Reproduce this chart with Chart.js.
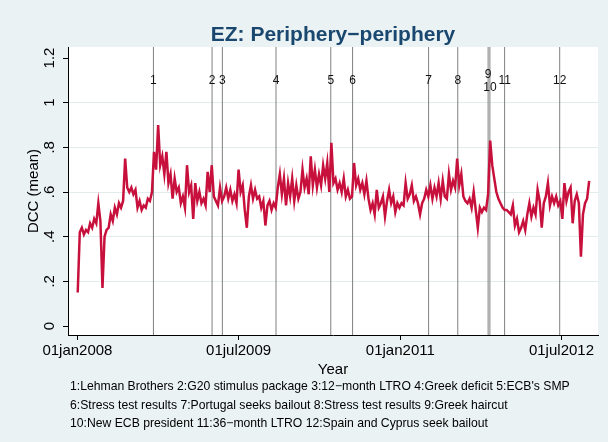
<!DOCTYPE html>
<html>
<head>
<meta charset="utf-8">
<script src="https://cdn.jsdelivr.net/npm/chart.js@4.4.1/dist/chart.umd.min.js"></script>
<style>
  html, body { margin: 0; padding: 0; background: #eaf2f3; }
  canvas { display: block; }
</style>
</head>
<body>
<canvas id="grafico" width="608" height="442"></canvas>
<script>
// Valores semanais do DCC (média), um array por ano
const inicioSerie = '2008-01-02';
const dcc2008 = [0.15, 0.42, 0.44, 0.41, 0.43, 0.42, 0.46, 0.44, 0.48, 0.46, 0.55, 0.47, 0.17, 0.40, 0.43, 0.44,
  0.50, 0.47, 0.53, 0.50, 0.55, 0.53, 0.56, 0.75, 0.62, 0.60, 0.62, 0.59, 0.61, 0.53, 0.56, 0.52, 0.54, 0.53,
  0.57, 0.56, 0.60, 0.78, 0.70, 0.90, 0.72, 0.76, 0.68, 0.78, 0.64, 0.68, 0.57, 0.66, 0.60, 0.62, 0.55, 0.58, 0.53];
const dcc2009 = [0.72, 0.60, 0.63, 0.48, 0.64, 0.56, 0.60, 0.55, 0.57, 0.54, 0.69, 0.60, 0.72, 0.58, 0.56, 0.54,
  0.62, 0.56, 0.58, 0.62, 0.57, 0.61, 0.56, 0.59, 0.55, 0.70, 0.60, 0.63, 0.52, 0.44, 0.58, 0.63, 0.57, 0.61,
  0.57, 0.58, 0.53, 0.56, 0.45, 0.54, 0.56, 0.52, 0.55, 0.53, 0.62, 0.68, 0.59, 0.66, 0.54, 0.64, 0.58, 0.66];
const dcc2010 = [0.56, 0.63, 0.57, 0.60, 0.70, 0.62, 0.66, 0.59, 0.76, 0.63, 0.70, 0.62, 0.68, 0.63, 0.72, 0.66,
  0.73, 0.60, 0.82, 0.64, 0.66, 0.61, 0.64, 0.60, 0.66, 0.58, 0.61, 0.57, 0.58, 0.73, 0.63, 0.66, 0.61, 0.64,
  0.59, 0.65, 0.57, 0.52, 0.55, 0.50, 0.61, 0.53, 0.55, 0.58, 0.49, 0.56, 0.61, 0.55, 0.58, 0.51, 0.55, 0.53];
const dcc2011 = [0.55, 0.54, 0.64, 0.57, 0.59, 0.63, 0.56, 0.58, 0.55, 0.50, 0.55, 0.57, 0.61, 0.58, 0.63, 0.57,
  0.62, 0.58, 0.64, 0.57, 0.65, 0.58, 0.57, 0.68, 0.61, 0.65, 0.62, 0.75, 0.63, 0.68, 0.58, 0.56, 0.55, 0.57,
  0.53, 0.60, 0.52, 0.44, 0.53, 0.51, 0.53, 0.52, 0.59, 0.83, 0.72, 0.66, 0.60, 0.57, 0.55, 0.53, 0.52, 0.52];
const dcc2012 = [0.51, 0.50, 0.54, 0.45, 0.48, 0.42, 0.44, 0.47, 0.43, 0.50, 0.55, 0.49, 0.53, 0.50, 0.61, 0.56,
  0.44, 0.55, 0.58, 0.64, 0.54, 0.58, 0.55, 0.58, 0.54, 0.56, 0.48, 0.64, 0.56, 0.60, 0.62, 0.46, 0.56, 0.59,
  0.55, 0.31, 0.50, 0.55, 0.57, 0.65];

// Eventos marcados com linhas verticais
const datasEventos = ['2008-09-15', '2009-04-02', '2009-05-07', '2009-11-05', '2010-05-10', '2010-07-23',
  '2011-04-07', '2011-07-15', '2011-10-26', '2011-11-01', '2011-12-21', '2012-06-25'];
const numerosEventos = ['1', '2', '3', '4', '5', '6', '7', '8', '9', '10', '11', '12'];
const legendaEventos = [
  '1:Lehman Brothers 2:G20 stimulus package 3:12\u2212month LTRO 4:Greek deficit 5:ECB\'s SMP',
  '6:Stress test results 7:Portugal seeks bailout 8:Stress test results 9:Greek haircut',
  '10:New ECB president 11:36\u2212month LTRO 12:Spain and Cyprus seek bailout'
];

// Marcas dos eixos
const ticksY = [0, 0.2, 0.4, 0.6, 0.8, 1, 1.2];
const rotulosY = ['0', '.2', '.4', '.6', '.8', '1', '1.2'];
const datasTicksX = ['2008-01-01', '2009-07-01', '2011-01-01', '2012-07-01'];
const rotulosX = ['01jan2008', '01jul2009', '01jan2011', '01jul2012'];

const titulo = 'EZ: Periphery\u2212periphery';
const fonte = '"Liberation Sans", Arial, Helvetica, sans-serif';

// Converte uma data em dias desde 01jan2008
function dia(s) {
  return (Date.parse(s + 'T00:00:00Z') - Date.parse('2008-01-01T00:00:00Z')) / 86400000;
}

// Monta os pontos semanais
const valores = [].concat(dcc2008, dcc2009, dcc2010, dcc2011, dcc2012);
const pontos = valores.map((v, i) => ({ x: dia(inicioSerie) + 7 * i, y: v }));

const fundo = {
  id: 'fundo',
  beforeDraw(chart) {
    const { ctx, chartArea: a } = chart;
    ctx.save();
    ctx.fillStyle = '#eaf2f3';
    ctx.fillRect(0, 0, chart.width, chart.height);
    ctx.fillStyle = '#ffffff';
    ctx.fillRect(a.left, a.top, a.right - a.left, a.bottom - a.top);
    ctx.restore();
  }
};

const eventos = {
  id: 'eventos',
  beforeDatasetsDraw(chart) {
    const { ctx, chartArea: a, scales } = chart;
    ctx.save();
    ctx.strokeStyle = '#808080';
    ctx.lineWidth = 1;
    datasEventos.forEach(d => {
      const px = scales.x.getPixelForValue(dia(d));
      ctx.beginPath();
      ctx.moveTo(px, a.top);
      ctx.lineTo(px, a.bottom);
      ctx.stroke();
    });
    ctx.restore();
  },
  afterDraw(chart) {
    const { ctx, chartArea: a, scales } = chart;
    const meioX = (a.left + a.right) / 2;
    ctx.save();
    ctx.textAlign = 'center';
    ctx.textBaseline = 'middle';

    // título centrado na área do gráfico
    ctx.fillStyle = '#1a476f';
    ctx.font = 'bold 21px ' + fonte;
    ctx.fillText(titulo, meioX, 35);

    // números dos eventos (empilha quando duas linhas quase se tocam)
    ctx.fillStyle = '#111';
    ctx.font = '12px ' + fonte;
    const pxs = datasEventos.map(d => scales.x.getPixelForValue(dia(d)));
    pxs.forEach((px, i) => {
      let dy = 0;
      if (i > 0 && px - pxs[i - 1] < 8) dy = 6.5;
      if (i < pxs.length - 1 && pxs[i + 1] - px < 8) dy = -6.5;
      ctx.fillText(numerosEventos[i], px, 81 + dy);
    });

    // rótulos do eixo y, girados como no Stata
    ctx.font = '15px ' + fonte;
    ctx.fillStyle = '#000';
    ticksY.forEach((v, i) => {
      const py = scales.y.getPixelForValue(v);
      ctx.save();
      ctx.translate(50, py);
      ctx.rotate(-Math.PI / 2);
      ctx.fillText(rotulosY[i], 0, 0);
      ctx.restore();
    });

    // títulos dos eixos
    ctx.save();
    ctx.translate(34, (a.top + a.bottom) / 2);
    ctx.rotate(-Math.PI / 2);
    ctx.fillText('DCC (mean)', 0, 0);
    ctx.restore();
    ctx.fillText('Year', meioX, 370);

    // legenda dos eventos
    ctx.font = '12.2px ' + fonte;
    ctx.textAlign = 'left';
    legendaEventos.forEach((linha, i) => {
      ctx.fillText(linha, 70, 387 + i * 18.5);
    });
    ctx.restore();
  }
};

new Chart(document.getElementById('grafico'), {
  type: 'line',
  data: {
    datasets: [{
      label: 'DCC (mean)',
      data: pontos,
      borderColor: '#c8103c',
      borderWidth: 2.5,
      pointRadius: 0,
      fill: false,
      tension: 0
    }]
  },
  options: {
    responsive: false,
    animation: false,
    devicePixelRatio: 1,
    layout: { padding: { left: 0, right: 10, top: 47, bottom: 77 } },
    plugins: {
      legend: { display: false },
      tooltip: { enabled: false },
      title: { display: false }
    },
    scales: {
      x: {
        type: 'linear',
        min: -32,
        max: 1767,
        afterBuildTicks: s => { s.ticks = datasTicksX.map(d => ({ value: dia(d) })); },
        afterFit: s => { s.height = 30; },
        ticks: {
          callback: (v, i) => rotulosX[i],
          font: { family: fonte, size: 15 },
          color: '#000',
          padding: 2,
          maxRotation: 0,
          autoSkip: false
        },
        grid: { drawOnChartArea: false, tickLength: 5, tickColor: '#000' },
        border: { color: '#000', width: 1 }
      },
      y: {
        min: -0.0403,
        max: 1.2494,
        afterBuildTicks: s => { s.ticks = ticksY.map(v => ({ value: v })); },
        afterFit: s => { s.width = 68; },
        ticks: { display: false },
        grid: {
          color: c => (c.tick && (c.tick.value === 0 || c.tick.value === 1.2)) ? 'rgba(0,0,0,0)' : '#e3eced',
          tickColor: '#000',
          tickLength: 5
        },
        border: { color: '#000', width: 1 }
      }
    }
  },
  plugins: [fundo, eventos]
});
</script>
</body>
</html>
